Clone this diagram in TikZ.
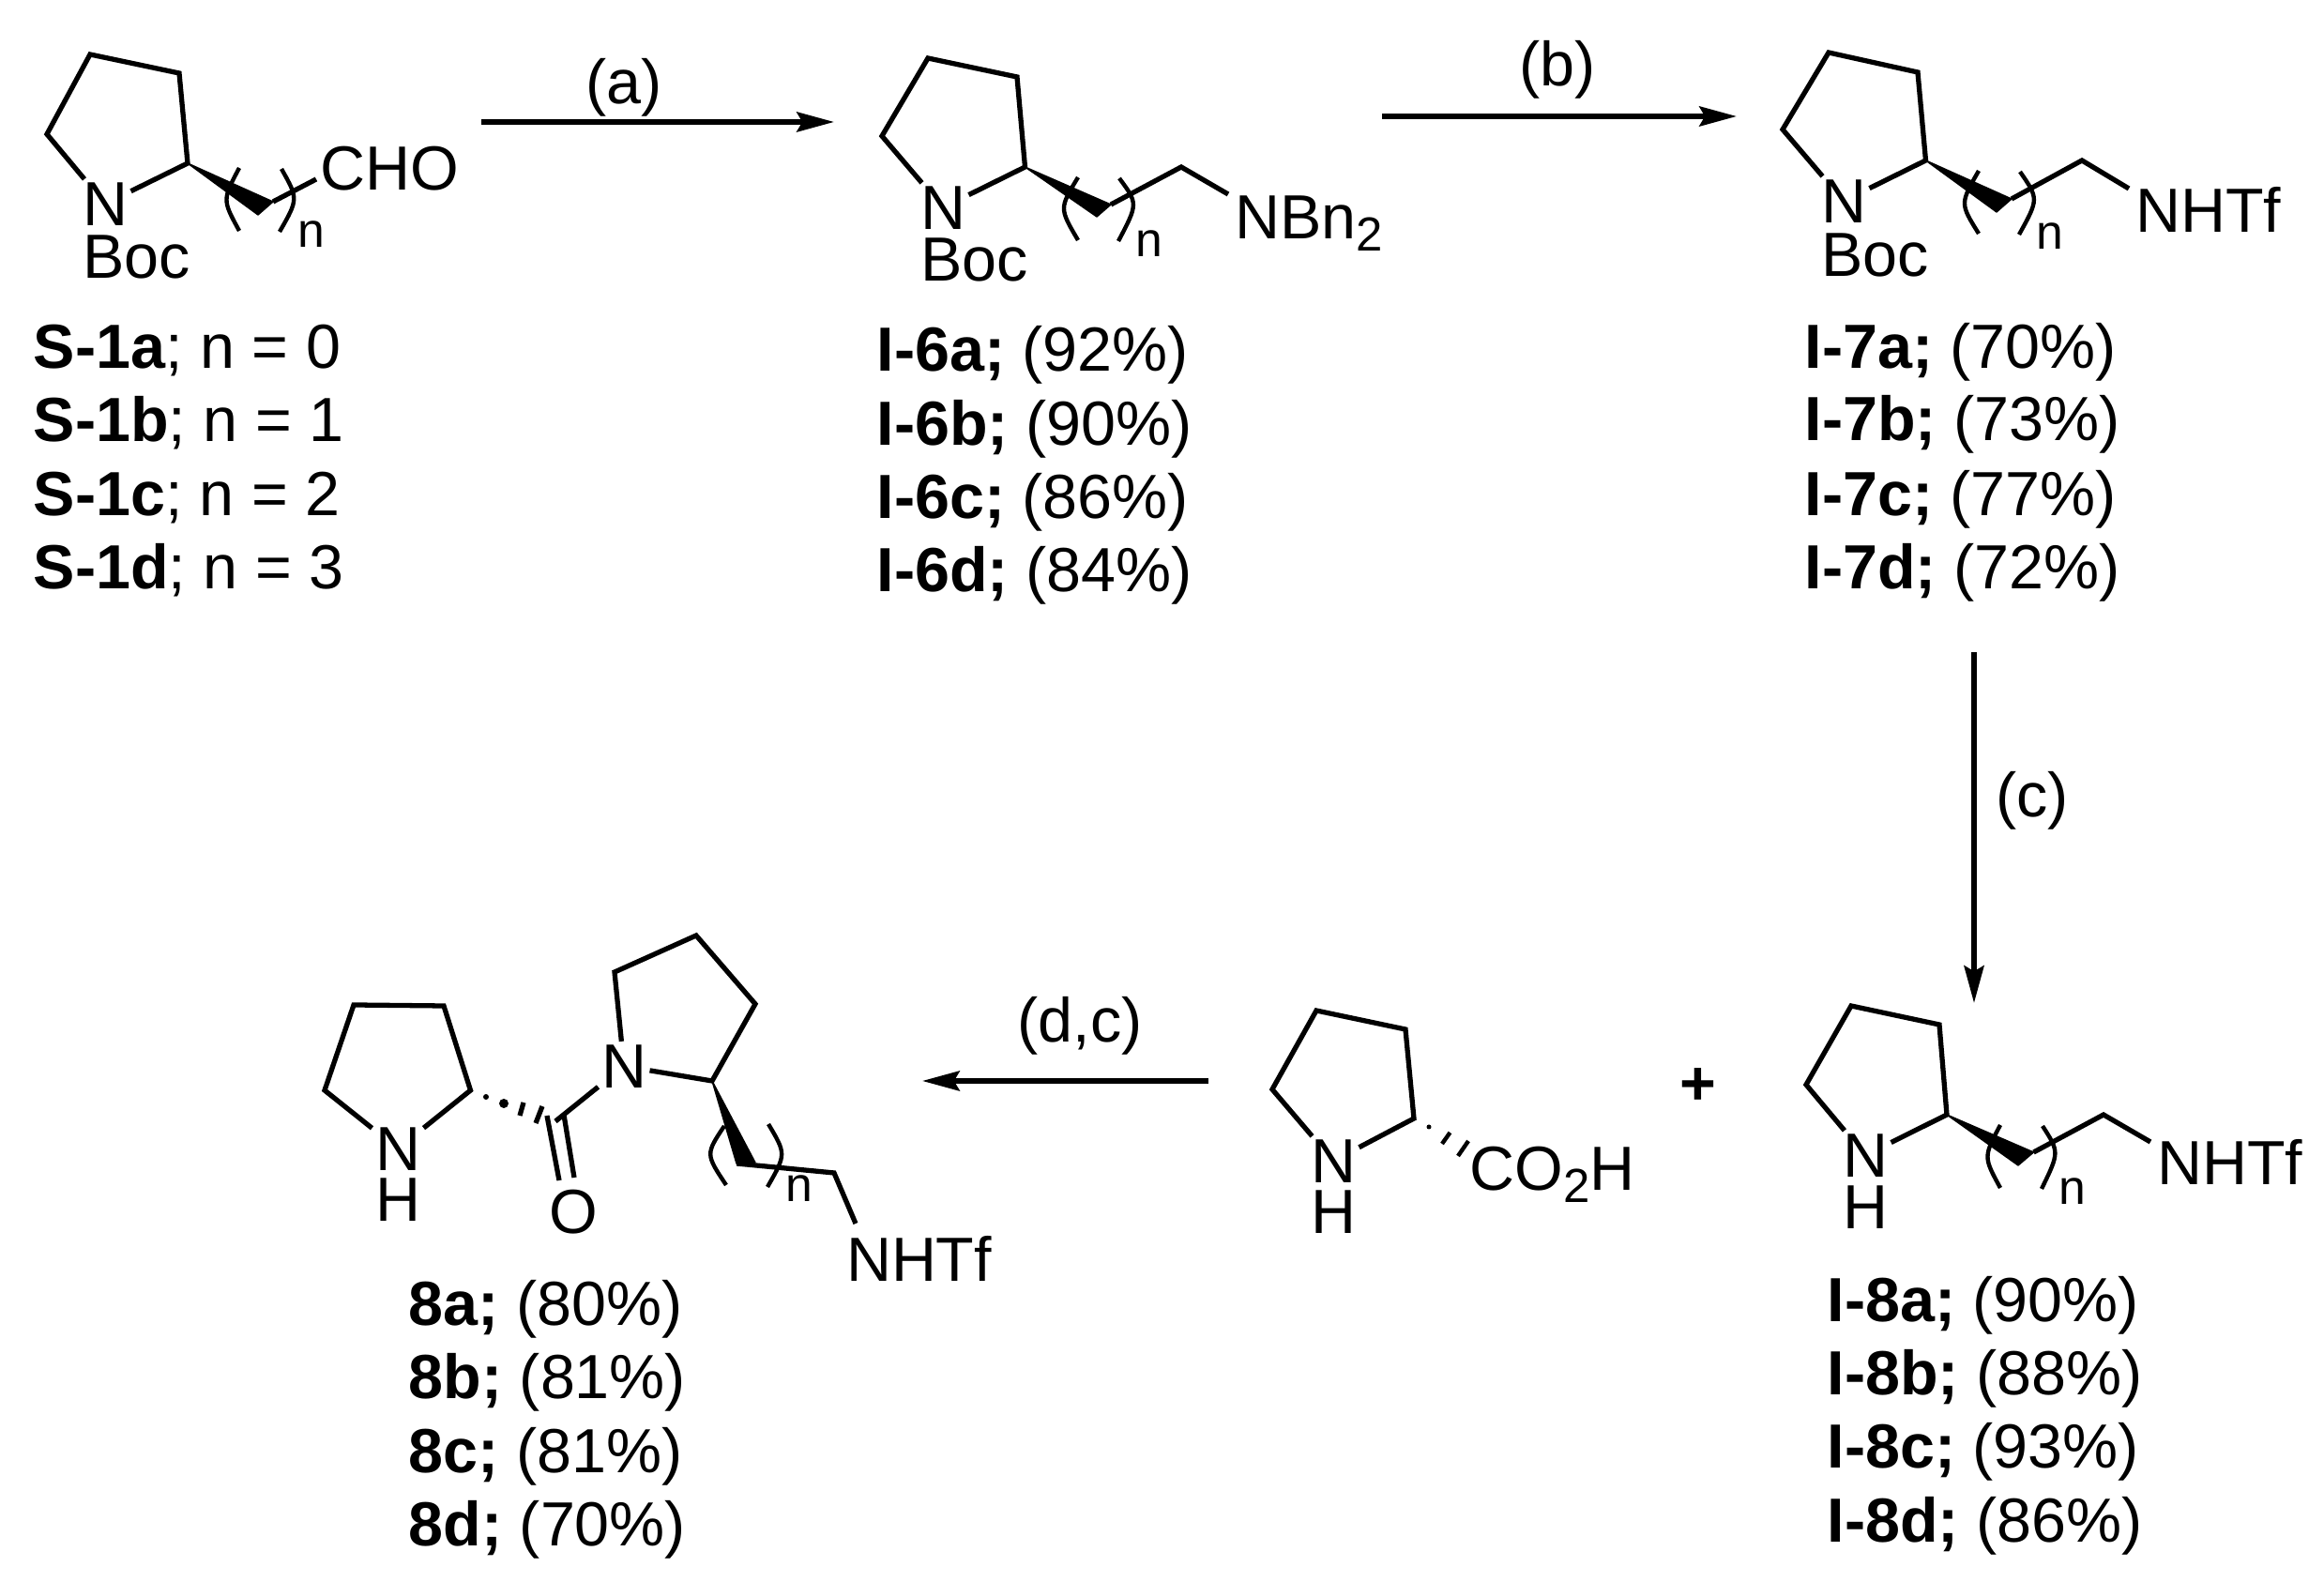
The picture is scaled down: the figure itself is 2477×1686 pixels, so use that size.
\documentclass[tikz,border=0pt]{standalone}
\usepackage{fontspec}
\setmainfont{Liberation Sans}
\usetikzlibrary{arrows.meta}
\newcommand{\subtxt}[1]{\raisebox{-3.7pt}{\fontsize{14.5}{16}\selectfont #1}}
\tikzstyle{atom} = [anchor=base west, inner sep=0pt, outer sep=1pt, yshift=-0.6pt, font=\fontsize{18.9}{23}\selectfont]
\tikzstyle{index} = [anchor=base west, inner sep=0pt, yshift=-0.7pt, font=\fontsize{14.7}{16}\selectfont]
\tikzstyle{yield} = [anchor=base west, inner sep=0pt, yshift=-0.85pt, font=\fontsize{18.9}{23}\selectfont]
\tikzstyle{reagent} = [anchor=base, inner sep=0pt, yshift=-0.95pt, font=\fontsize{18.9}{23}\selectfont]
\tikzstyle{bond} = [line width=1.5pt]
\tikzstyle{paren} = [line width=1.25pt]
\tikzstyle{wedge} = [line width=0.4pt, line join=round]
\tikzstyle{arrow} = [line width=1.55pt,-{Stealth[length=11.3pt,width=6pt,inset=1.7pt]}]

\begin{document}
\begin{tikzpicture}[x=0.01cm,y=-0.01cm]
\useasboundingbox (0,0) rectangle (2477,1686);

\coordinate (s1a) at (50,143);
\coordinate (s1b) at (96,58);
\coordinate (s1c) at (191,78);
\coordinate (s1d) at (200,174);
\coordinate (s1e) at (275,229);
\coordinate (s1f) at (291,215);
\coordinate (s1g) at (337,191);
\node (s1N) [atom] at (84.5,238) {N};
\node (s1Boc) [atom] at (84.5,294) {Boc};
\node (s1CHO) [atom] at (338,200) {CHO};
\node (s1n) [index] at (317,261) {n};
\draw [bond] (s1N) -- (s1a) -- (s1b) -- (s1c) -- (s1d) -- (s1N);
\filldraw [wedge] (s1d) -- (s1e) -- (s1f) -- cycle;
\draw [bond] (s1f) -- (s1g);
\draw [paren] (255,179) .. controls (237,213) .. (255,246);
\draw [paren] (300,180) .. controls (318,212) .. (298,247);

\coordinate (i6a) at (940,145);
\coordinate (i6b) at (989,62);
\coordinate (i6c) at (1084,82);
\coordinate (i6d) at (1092.5,178);
\coordinate (i6e) at (1169,231);
\coordinate (i6f) at (1184,218);
\coordinate (i6g) at (1259,178);
\coordinate (i6h) at (1309,207);
\node (i6N) [atom] at (977.5,242) {N};
\node (i6Boc) [atom] at (977.5,297) {Boc};
\node (i6NBn) [atom] at (1312.5,252) {NBn\subtxt{2}};
\node (i6n) [index] at (1210,271) {n};
\draw [bond] (i6N) -- (i6a) -- (i6b) -- (i6c) -- (i6d) -- (i6N);
\filldraw [wedge] (i6d) -- (i6e) -- (i6f) -- cycle;
\draw [bond] (i6f) -- (i6g) -- (i6h);
\draw [paren] (1149,189) .. controls (1129,222) .. (1149,256);
\draw [paren] (1193,190) .. controls (1213,217) .. (1192,257);

\coordinate (i7a) at (1900,138);
\coordinate (i7b) at (1949,56);
\coordinate (i7c) at (2044,77);
\coordinate (i7d) at (2052.5,171);
\coordinate (i7e) at (2128,226);
\coordinate (i7f) at (2144,212);
\coordinate (i7g) at (2219,171);
\coordinate (i7h) at (2269,201);
\node (i7N) [atom] at (1937.5,235) {N};
\node (i7Boc) [atom] at (1937.5,292) {Boc};
\node (i7NHTf) [atom] at (2272.5,245) {NHTf};
\node (i7n) [index] at (2170,263) {n};
\draw [bond] (i7N) -- (i7a) -- (i7b) -- (i7c) -- (i7d) -- (i7N);
\filldraw [wedge] (i7d) -- (i7e) -- (i7f) -- cycle;
\draw [bond] (i7f) -- (i7g) -- (i7h);
\draw [paren] (2109,182) .. controls (2089,217) .. (2109,249);
\draw [paren] (2153,183) .. controls (2173,212) .. (2152,250);

\coordinate (i8a) at (1925,1156);
\coordinate (i8b) at (1973,1072);
\coordinate (i8c) at (2067,1092);
\coordinate (i8d) at (2075,1188);
\coordinate (i8e) at (2151,1242);
\coordinate (i8f) at (2167.5,1228);
\coordinate (i8g) at (2242,1188);
\coordinate (i8h) at (2292,1217);
\node (i8N) [atom] at (1960.5,1252) {N};
\node (i8H) [atom] at (1960.5,1307) {H};
\node (i8NHTf) [atom] at (2295.5,1260) {NHTf};
\node (i8n) [index] at (2194,1281) {n};
\draw [bond] (i8N) -- (i8a) -- (i8b) -- (i8c) -- (i8d) -- (i8N);
\filldraw [wedge] (i8d) -- (i8e) -- (i8f) -- cycle;
\draw [bond] (i8f) -- (i8g) -- (i8h);
\draw [paren] (2132,1199) .. controls (2114,1233) .. (2132,1266);
\draw [paren] (2177,1200) .. controls (2195,1228) .. (2176,1267);

\coordinate (proa) at (1356,1161);
\coordinate (prob) at (1403,1077);
\coordinate (proc) at (1498,1097);
\coordinate (prod) at (1507,1192);
\node (proN) [atom] at (1393.5,1258) {N};
\node (proH) [atom] at (1393.5,1312) {H};
\node (proCO) [atom] at (1563,1266) {CO\subtxt{2}H};
\draw [bond] (proN) -- (proa) -- (prob) -- (proc) -- (prod) -- (proN);
\fill (1523,1201) circle (2.5);
\draw [paren] (1545.5,1207) -- (1537,1219);
\draw [paren] (1565,1216) -- (1554,1232);

\coordinate (8a) at (346,1162);
\coordinate (8b) at (377,1071);
\coordinate (8c) at (473,1072);
\coordinate (8d) at (501.5,1162);
\coordinate (8co) at (592,1195);
\coordinate (8ca) at (583,1189);
\coordinate (8cb) at (596,1258);
\coordinate (8cc) at (601,1188);
\coordinate (8cd) at (612,1255);
\coordinate (8f) at (655,1036);
\coordinate (8g) at (742,997);
\coordinate (8h) at (805,1070);
\coordinate (8i) at (759,1152);
\coordinate (8j) at (785,1240);
\coordinate (8k) at (805,1239);
\coordinate (8l) at (889,1250);
\coordinate (8m) at (912,1304);
\node (8N) [atom] at (396.5,1245) {N};
\node (8H) [atom] at (396.5,1299) {H};
\node (8O) [atom] at (582,1312) {O};
\node (8Nb) [atom] at (637.5,1157) {N};
\node (8NHTf) [atom] at (898.5,1363) {NHTf};
\node (8n) [index] at (837,1278) {n};
\draw [bond] (8N) -- (8a) -- (8b) -- (8c) -- (8d) -- (8N);
\fill (518,1169) circle (3);
\fill (537,1176) circle (5);
\draw [bond] (558,1175) -- (554,1189);
\draw [bond] (578,1179) -- (571,1197);
\draw [bond] (8co) -- (8Nb);
\draw [bond] (8ca) -- (8cb);
\draw [bond] (8cc) -- (8cd);
\draw [bond] (8Nb) -- (8f) -- (8g) -- (8h) -- (8i) -- (8Nb);
\filldraw [wedge] (8i) -- (8j) -- (8k) -- cycle;
\draw [bond] (8j) -- (8l) -- (8m);
\draw [paren] (772,1200) .. controls (752,1230) .. (774,1263);
\draw [paren] (819,1198) .. controls (838,1230) .. (818,1265);

\node (plus) [inner sep=0pt, font=\fontsize{18.9}{23}\selectfont\bfseries] at (1810,1158) {+};

\coordinate (arra) at (513,130);
\coordinate (arrb) at (889,130);
\coordinate (brra) at (1473,124);
\coordinate (brrb) at (1851,124);
\coordinate (crra) at (2104,695);
\coordinate (crrb) at (2104,1069);
\coordinate (drra) at (1288,1152);
\coordinate (drrb) at (983,1152);
\draw [arrow] (arra) -- (arrb);
\draw [arrow] (brra) -- (brrb);
\draw [arrow] (crra) -- (crrb);
\draw [arrow] (drra) -- (drrb);
\node (laba) [reagent] at (665,107) {(a)};
\node (labb) [reagent] at (1660,88) {(b)};
\node (labc) [reagent] at (2166,867) {(c)};
\node (labd) [reagent] at (1151,1107) {(d,c)};

\node (s1A) [yield] at (35,390) {\textbf{S-1a}; n = 0};
\node (s1B) [yield] at (35,468) {\textbf{S-1b}; n = 1};
\node (s1C) [yield] at (35,547) {\textbf{S-1c}; n = 2};
\node (s1D) [yield] at (35,625) {\textbf{S-1d}; n = 3};

\node (i6A) [yield] at (934,393) {\textbf{I-6a;} (92\%)};
\node (i6B) [yield] at (934,472) {\textbf{I-6b;} (90\%)};
\node (i6C) [yield] at (934,550) {\textbf{I-6c;} (86\%)};
\node (i6D) [yield] at (934,628) {\textbf{I-6d;} (84\%)};

\node (i7A) [yield] at (1923,390) {\textbf{I-7a;} (70\%)};
\node (i7B) [yield] at (1923,467) {\textbf{I-7b;} (73\%)};
\node (i7C) [yield] at (1923,547) {\textbf{I-7c;} (77\%)};
\node (i7D) [yield] at (1923,625) {\textbf{I-7d;} (72\%)};

\node (i8A) [yield] at (1947,1406) {\textbf{I-8a;} (90\%)};
\node (i8B) [yield] at (1947,1484) {\textbf{I-8b;} (88\%)};
\node (i8C) [yield] at (1947,1562) {\textbf{I-8c;} (93\%)};
\node (i8D) [yield] at (1947,1641) {\textbf{I-8d;} (86\%)};

\node (8A) [yield] at (435,1410) {\textbf{8a;} (80\%)};
\node (8B) [yield] at (435,1488) {\textbf{8b;} (81\%)};
\node (8C) [yield] at (435,1567) {\textbf{8c;} (81\%)};
\node (8D) [yield] at (435,1645) {\textbf{8d;} (70\%)};

\end{tikzpicture}
\end{document}
